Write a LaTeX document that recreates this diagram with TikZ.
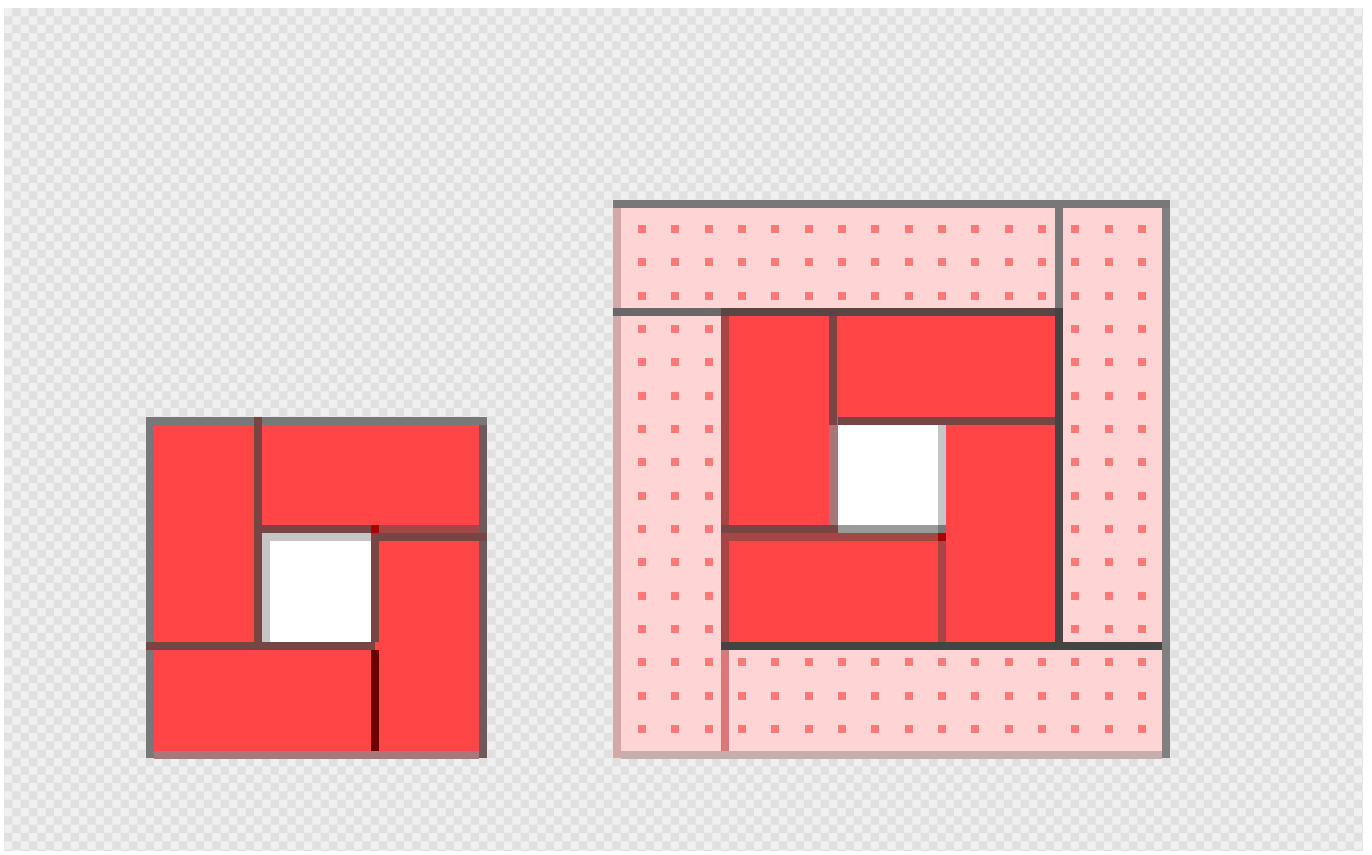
\documentclass[tikz,border=0pt]{standalone}
\definecolor{checkdark}{HTML}{E0E0E0}
\definecolor{checklight}{HTML}{F0F0F0}
\definecolor{redfill}{HTML}{FF4545}
\definecolor{pinkfill}{HTML}{FFD4D4}
\definecolor{dotfill}{HTML}{FF7878}
\definecolor{edgegray}{HTML}{787878}
\definecolor{edgegraydk}{HTML}{686868}
\definecolor{edgeside}{HTML}{6E5A5A}
\definecolor{edgeouter}{HTML}{808080}
\definecolor{edgedark}{HTML}{444444}
\definecolor{edgeband}{HTML}{5A4545}
\definecolor{edgemaroon}{HTML}{784545}
\definecolor{edgebrick}{HTML}{A54545}
\definecolor{edgerose}{HTML}{D4A8A8}
\definecolor{edgepink}{HTML}{D87878}
\definecolor{edgefoot}{HTML}{C4AEAE}
\definecolor{edgeblood}{HTML}{6A0000}
\definecolor{holeshade}{HTML}{C5C5C5}
\definecolor{holemid}{HTML}{9A9A9A}
\definecolor{holerose}{HTML}{A87878}
\definecolor{cornerred}{HTML}{AA0000}
\begin{document}
\begin{tikzpicture}[x=1pt, y=-1pt, edge/.style={line width=8pt}, piece/.style={fill=redfill}, strip/.style={fill=pinkfill}, hole/.style={fill=white}]
    \useasboundingbox (0,0) rectangle (1372,854);
    \fill[white] (0,0) rectangle (1372,854);

    % sfondo a scacchi
    \fill[checklight] (4,8) rectangle (1363,851);
    \begin{scope}
        \clip (4,8) rectangle (1363,851);
        \fill[checkdark, even odd rule] \foreach \i in {0,2,...,162} {(4+\i*8.333,8) rectangle ++(8.333,843)} \foreach \j in {0,2,...,100} {(4,8+\j*8.333) rectangle ++(1359,8.333)};
    \end{scope}

    % quadrato piccolo
    \fill[piece] (146,417) rectangle (487,758);
    \fill[hole] (258,530) rectangle (375,645);
    \fill[holeshade] (262,533) rectangle (270,642);
    \fill[holeshade] (262,533) rectangle (371,541);

    \draw[edge, edgegray] (146,421) -- (487,421);
    \draw[edge, edgegray] (150,425) -- (150,758);
    \draw[edge, edgeside] (483,425) -- (483,758);
    \draw[edge, holerose] (154,755) -- (479,755);
    \draw[edge, edgemaroon] (258,417) -- (258,646);
    \draw[edge, edgemaroon] (262,529) -- (371,529);
    \draw[edge, edgebrick] (379,529) -- (479,529);
    \draw[edge, edgemaroon] (379,537) -- (487,537);
    \draw[edge, edgemaroon] (375,533) -- (375,642);
    \draw[edge, edgeblood] (375,650) -- (375,751);
    \draw[edge, edgemaroon] (146,646) -- (375,646);
    \fill[cornerred] (371,525) rectangle (379,533);

    % quadrato grande
    \fill[strip] (613,201) rectangle (1170,758);
    \foreach \i in {0,...,15}
        \foreach \j in {0,...,15}
            \fill[dotfill] (638+\i*33.333,225+\j*33.333) rectangle ++(8,8);

    \fill[piece] (723,312) rectangle (1058,645);
    \fill[hole] (838,425) rectangle (938,525);
    \fill[holerose] (829,425) rectangle (838,525);
    \fill[holeshade] (938,425) rectangle (946,525);
    \fill[holemid] (838,525) rectangle (938,533);

    \draw[edge, edgegray] (613,204) -- (1170,204);
    \draw[edge, edgerose] (617,208) -- (617,758);
    \draw[edge, edgeouter] (1166,208) -- (1166,758);
    \draw[edge, edgefoot] (621,755) -- (1162,755);
    \draw[edge, edgegraydk] (613,312) -- (721,312);
    \draw[edge, edgeband] (721,312) -- (1055,312);
    \draw[edge, edgebrick] (725,316) -- (725,642);
    \draw[edge, edgepink] (725,650) -- (725,751);
    \draw[edge, edgegray] (1059,208) -- (1059,308);
    \draw[edge, edgedark] (1059,308) -- (1059,650);
    \draw[edge, edgedark] (721,646) -- (1162,646);
    \draw[edge, edgemaroon] (833,316) -- (833,425);
    \draw[edge, edgemaroon] (838,421) -- (1055,421);
    \draw[edge, edgemaroon] (721,529) -- (838,529);
    \draw[edge, edgebrick] (729,537) -- (942,537);
    \draw[edge, edgebrick] (942,541) -- (942,642);
    \fill[edgegray] (938,525) rectangle (946,533);
    \fill[cornerred] (938,533) rectangle (946,541);
\end{tikzpicture}
\end{document}
